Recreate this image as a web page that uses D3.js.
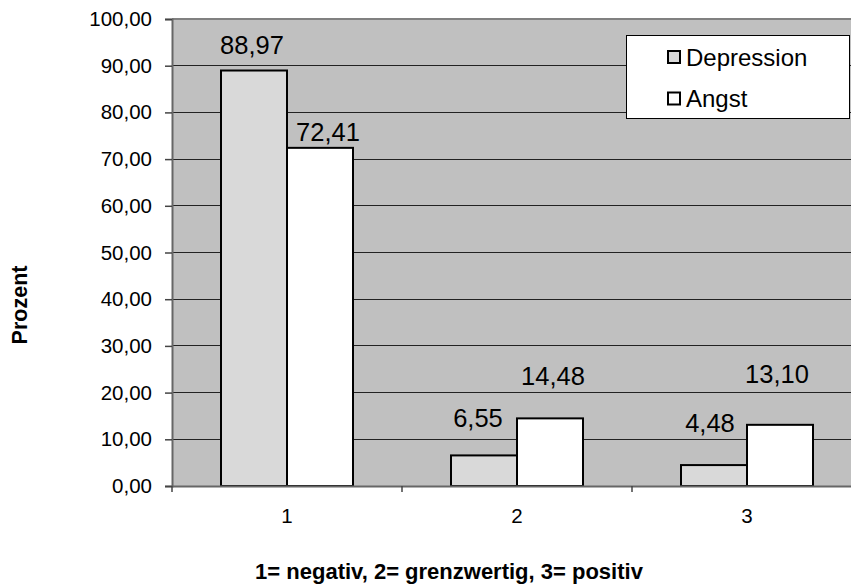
<!DOCTYPE html>
<html>
<head>
<meta charset="utf-8">
<script src="https://cdn.jsdelivr.net/npm/d3@7"></script>
<style>
  html, body { margin: 0; padding: 0; background: #fff; }
  svg { display: block; font-family: Arial, "Liberation Sans", sans-serif; }
</style>
</head>
<body>
<svg id="chart" width="851" height="584"></svg>
<script>
// Data
const categories = ["1", "2", "3"];
const seriesNames = ["Depression", "Angst"];
const depression = [88.97, 6.55, 4.48];
const angst = [72.41, 14.48, 13.10];
const yTicks = [0, 10, 20, 30, 40, 50, 60, 70, 80, 90, 100];
const xTitle = "1= negativ, 2= grenzwertig, 3= positiv";
const yTitle = "Prozent";

const seriesValues = [depression, angst];
const seriesFill = ["#d9d9d9", "#ffffff"];

// Comma decimal formatting
const deLocale = d3.formatLocale({ decimal: ",", thousands: ".", grouping: [3], currency: ["", " €"] });
const fmt = deLocale.format(".2f");

const svg = d3.select("#chart");

// Plot area (extends past the right edge of the view)
const plot = { left: 172, right: 862, top: 19, bottom: 486 };

const x = d3.scaleBand().domain(categories).range([plot.left, plot.right]).paddingInner(0).paddingOuter(0);
const groupWidth = 132;
const xInner = d3.scaleBand().domain(seriesNames).range([0, groupWidth]).padding(0);
const y = d3.scaleLinear().domain([0, 100]).range([plot.bottom, plot.top]);

// Plot background
svg.append("rect")
  .attr("x", plot.left).attr("y", plot.top)
  .attr("width", plot.right - plot.left).attr("height", plot.bottom - plot.top)
  .attr("fill", "#c0c0c0");

// Gridlines
svg.append("g")
  .selectAll("line")
  .data(yTicks.filter(t => t > 0 && t < 100))
  .join("line")
  .attr("x1", plot.left).attr("x2", plot.right)
  .attr("y1", d => y(d)).attr("y2", d => y(d))
  .attr("stroke", "#222").attr("stroke-width", 1)
  .attr("shape-rendering", "crispEdges");

// Top border of the plot area
svg.append("line")
  .attr("x1", plot.left).attr("x2", plot.right)
  .attr("y1", y(100)).attr("y2", y(100))
  .attr("stroke", "#808080").attr("stroke-width", 2);

// Bars
const groups = svg.append("g")
  .selectAll("g")
  .data(categories)
  .join("g")
  .attr("transform", d => `translate(${x(d) + (x.bandwidth() - groupWidth) / 2},0)`);

groups.selectAll("rect")
  .data((c, i) => seriesNames.map((s, k) => ({ s, k, v: seriesValues[k][i] })))
  .join("rect")
  .attr("x", d => xInner(d.s))
  .attr("y", d => y(d.v))
  .attr("width", xInner.bandwidth())
  .attr("height", d => y(0) - y(d.v))
  .attr("fill", d => seriesFill[d.k])
  .attr("stroke", "#000")
  .attr("stroke-width", 2);

// Value labels, nudged from each bar top
const labelNudge = [
  [{ dx: -2, dy: -17 }, { dx: -6, dy: -28 }, { dx: -4, dy: -33 }],
  [{ dx: 8, dy: -7 }, { dx: 3, dy: -33 }, { dx: -3, dy: -42 }]
];
groups.each(function (c, i) {
  const g = d3.select(this);
  seriesNames.forEach((s, k) => {
    const v = seriesValues[k][i];
    const n = labelNudge[k][i];
    g.append("text")
      .attr("x", xInner(s) + xInner.bandwidth() / 2 + n.dx)
      .attr("y", y(v) + n.dy)
      .attr("text-anchor", "middle")
      .attr("font-size", 25.5)
      .attr("fill", "#000")
      .text(fmt(v));
  });
});

// Y axis
const yAxis = svg.append("g")
  .attr("transform", `translate(${plot.left},0)`)
  .call(d3.axisLeft(y).tickValues(yTicks).tickFormat(fmt).tickSize(7).tickPadding(13));
yAxis.select(".domain").attr("stroke", "#666").attr("stroke-width", 2);
yAxis.selectAll(".tick line").attr("stroke", "#444").attr("stroke-width", 1.5);
yAxis.selectAll(".tick text").attr("font-size", 20.5).attr("fill", "#000")
  .attr("font-family", "Arial, 'Liberation Sans', sans-serif");

// X axis: labels centred in each band, ticks at band boundaries
const xAxis = svg.append("g")
  .attr("transform", `translate(0,${plot.bottom})`)
  .call(d3.axisBottom(x).tickSize(0).tickPadding(22));
xAxis.select(".domain").attr("stroke", "#666").attr("stroke-width", 2);
xAxis.selectAll(".tick text").attr("font-size", 20.5).attr("fill", "#000")
  .attr("font-family", "Arial, 'Liberation Sans', sans-serif");
xAxis.append("g")
  .selectAll("line")
  .data(categories.map(c => x(c)).concat([x(categories[categories.length - 1]) + x.bandwidth()]))
  .join("line")
  .attr("x1", d => d).attr("x2", d => d)
  .attr("y1", 0).attr("y2", 6)
  .attr("stroke", "#444").attr("stroke-width", 1.5);

// Axis titles
svg.append("text")
  .attr("x", 449).attr("y", 579)
  .attr("text-anchor", "middle")
  .attr("font-size", 22).attr("font-weight", "bold")
  .text(xTitle);

svg.append("text")
  .attr("transform", "translate(27,305) rotate(-90)")
  .attr("text-anchor", "middle")
  .attr("font-size", 21.5).attr("font-weight", "bold")
  .text(yTitle);

// Legend
const legend = svg.append("g");
legend.append("rect")
  .attr("x", 626.5).attr("y", 35.5).attr("width", 223).attr("height", 83)
  .attr("fill", "#fff").attr("stroke", "#000").attr("stroke-width", 1);
const legendRows = [57, 98.5];
seriesNames.forEach((s, k) => {
  legend.append("rect")
    .attr("x", 668).attr("y", legendRows[k] - 6)
    .attr("width", 12).attr("height", 12)
    .attr("fill", seriesFill[k]).attr("stroke", "#000").attr("stroke-width", 2);
  legend.append("text")
    .attr("x", 686).attr("y", legendRows[k] + 8.5)
    .attr("font-size", 24).attr("fill", "#000")
    .text(s);
});
</script>
</body>
</html>
